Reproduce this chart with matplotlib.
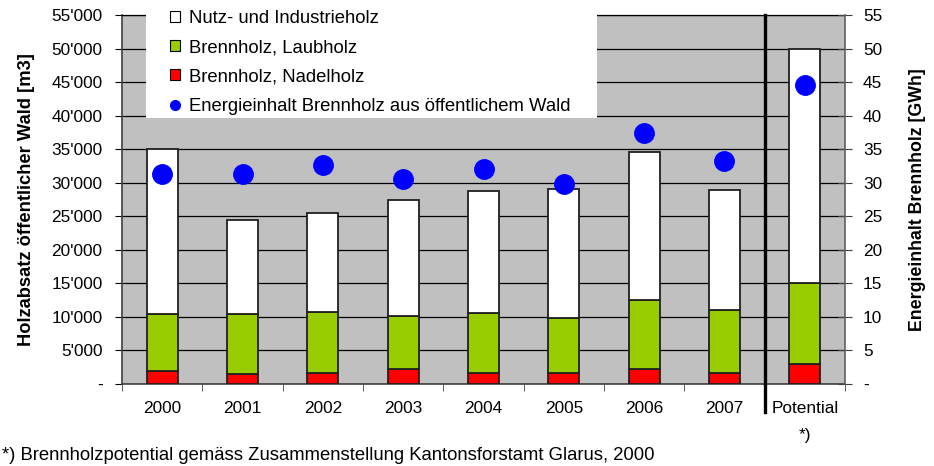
import matplotlib.pyplot as plt
from matplotlib.patches import Patch, Rectangle
from matplotlib.lines import Line2D
from matplotlib.ticker import FuncFormatter, FixedLocator

# data
categories = ['2000', '2001', '2002', '2003', '2004', '2005', '2006', '2007', 'Potential\n*)']
nadelholz = [1900, 1450, 1650, 2300, 1650, 1700, 2300, 1700, 3000]
laubholz = [8500, 8950, 9150, 7800, 8950, 8200, 10200, 9300, 12000]
nutzholz = [24700, 14000, 14700, 17300, 18100, 19200, 22100, 17900, 35000]
energie_gwh = [31.3, 31.3, 32.6, 30.5, 32.0, 29.8, 37.4, 33.2, 44.6]

plt.rcParams['font.family'] = ['Liberation Sans', 'DejaVu Sans']

W, H = 934, 466
fig = plt.figure(figsize=(W / 100, H / 100), dpi=100)
ax = fig.add_axes([122 / W, 1 - 384 / H, (845 - 122) / W, (384 - 15) / H])

x = list(range(len(categories)))
bottom_laub = nadelholz
bottom_nutz = [a + b for a, b in zip(nadelholz, laubholz)]

bar_kw = dict(width=0.39, edgecolor='#202020', linewidth=1.3, zorder=3)
ax.bar(x, nadelholz, color='#ff0000', **bar_kw)
ax.bar(x, laubholz, bottom=bottom_laub, color='#99cc00', **bar_kw)
ax.bar(x, nutzholz, bottom=bottom_nutz, color='#ffffff', **bar_kw)

ax.set_facecolor('#c0c0c0')
ax.set_xlim(-0.5, len(categories) - 0.5)
ax.set_ylim(0, 55000)
ax.set_yticks(range(0, 55001, 5000))
ax.yaxis.set_major_formatter(FuncFormatter(
    lambda v, p: '-' if v == 0 else f"{int(v):,}".replace(',', "'")))
ax.grid(axis='y', color='black', linewidth=0.9)
ax.set_axisbelow(True)
ax.tick_params(axis='y', direction='out', length=5, pad=9, labelsize=12.4)

ax.set_xticks(x)
ax.set_xticklabels(categories, fontsize=12.4, linespacing=2.05, va='top')
ax.xaxis.set_minor_locator(FixedLocator([i + 0.5 for i in range(-1, len(categories))]))
ax.tick_params(axis='x', which='major', length=0, pad=12)
ax.tick_params(axis='x', which='minor', direction='out', length=5, color='#404040')

for s in ['left', 'bottom']:
    ax.spines[s].set_color('#404040')
    ax.spines[s].set_linewidth(1.2)
ax.spines['top'].set_color('black')
ax.spines['top'].set_linewidth(0.9)
ax.spines['right'].set_visible(False)

ax.set_ylabel('Holzabsatz öffentlicher Wald [m3]', fontsize=13.2, fontweight='bold', labelpad=12)

# separator between years and potential
ax.axvline(len(categories) - 1.5, ymin=-0.075, ymax=1, color='black', linewidth=2.4,
           clip_on=False, zorder=5)

ax2 = ax.twinx()
ax2.set_ylim(0, 55)
ax2.set_yticks(range(0, 56, 5))
ax2.yaxis.set_major_formatter(FuncFormatter(lambda v, p: '-' if v == 0 else f"{int(v)}"))
ax2.tick_params(axis='y', direction='inout', length=10, pad=8, labelsize=12.4, color='#404040')
ax2.plot(x, energie_gwh, 'o', color='#0000ff', markersize=14, zorder=6)
for s in ['left', 'bottom', 'top']:
    ax2.spines[s].set_visible(False)
ax2.spines['right'].set_color('#606060')
ax2.spines['right'].set_linewidth(1.2)
ax2.set_ylabel('Energieinhalt Brennholz [GWh]', fontsize=12.8, fontweight='bold', labelpad=19)

# legend on a white box overlapping the top of the plot
fig.patches.append(Rectangle((146 / W, 1 - 118 / H), (597 - 146) / W, 118 / H,
                             transform=fig.transFigure, facecolor='white',
                             edgecolor='none', zorder=4))
handles = [
    Patch(facecolor='white', edgecolor='black', linewidth=0.8),
    Patch(facecolor='#99cc00', edgecolor='black', linewidth=0.8),
    Patch(facecolor='#ff0000', edgecolor='black', linewidth=0.8),
    Line2D([], [], marker='o', linestyle='none', color='#0000ff', markersize=7),
]
labels = ['Nutz- und Industrieholz', 'Brennholz, Laubholz', 'Brennholz, Nadelholz',
          'Energieinhalt Brennholz aus öffentlichem Wald']
leg = fig.legend(handles, labels, loc='upper left', bbox_to_anchor=(170 / W, 1 - 10 / H),
                 frameon=False, fontsize=13.3, handlelength=0.55, handleheight=0.55,
                 handletextpad=0.5, labelspacing=0.66, borderpad=0, borderaxespad=0)
leg.set_zorder(5)

fig.text(2 / W, 1 - 455 / H, '*) Brennholzpotential gemäss Zusammenstellung Kantonsforstamt Glarus, 2000',
         fontsize=13.3, va='center', ha='left')

fig.savefig('out.png', dpi=100)
